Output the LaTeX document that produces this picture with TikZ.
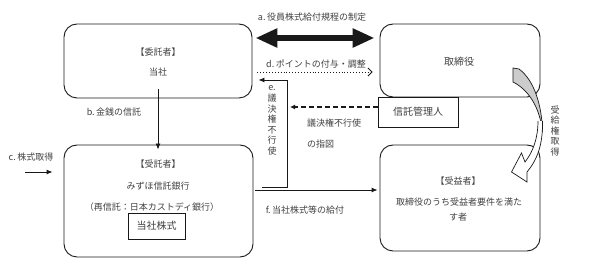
\documentclass[tikz,border=0pt]{standalone}
\usepackage{fontspec}
\setmainfont{Noto Sans CJK JP}
\usetikzlibrary{arrows.meta,calc}
\definecolor{txt}{gray}{0.25}
\definecolor{ln}{gray}{0.1}
\begin{document}
\begin{tikzpicture}[x=1pt,y=-1pt,
  every node/.style={text=txt,font=\fontsize{9}{11}\selectfont,inner sep=0pt},
  rbox/.style={draw=ln,line width=0.9pt,rounded corners=13pt},
  sqbox/.style={draw=ln,line width=0.9pt,fill=white},
  big/.style={font=\fontsize{10}{12}\selectfont},
  arr/.style={draw=ln,line width=0.9pt,-{Latex[length=6pt,width=5pt]}},
  vtext/.style={align=center,font=\fontsize{9}{10.5}\selectfont}]
\useasboundingbox (0,0) rectangle (606,264);

% boxes
\node[rbox,minimum width=188pt,minimum height=74pt] (itaku) at (158,61) {};
\node[rbox,minimum width=160pt,minimum height=73pt] (tori) at (460,60.5) {};
\node[rbox,minimum width=189pt,minimum height=112pt] (jutaku) at (158.5,201) {};
\node[rbox,minimum width=160pt,minimum height=106pt] (jueki) at (460,198) {};
\node[sqbox,big,minimum width=80pt,minimum height=30pt] (kanri) at (418,112) {信託管理人};
\node[sqbox,big,minimum width=57pt,minimum height=26pt] (kabu) at (156.5,226) {当社株式};

% box texts
\node (t1) at (158,52) {【委託者】};
\node (t2) at (158,72) {当社};
\node[big] (t3) at (459,62) {取締役};
\node (t4) at (158,164) {【受託者】};
\node (t5) at (158,186) {みずほ信託銀行};
\node (t6) at (152,207) {（再信託：日本カストディ銀行）};
\node (t7) at (458,181) {【受益者】};
\node (t8) at (459,202) {取締役のうち受益者要件を満た};
\node (t9) at (458,217) {す者};

% labels
\node (la) at (312,17) {a.\,役員株式給付規程の制定};
\node (ld) at (316,64) {d.\,ポイントの付与・調整};
\node (lb) at (114,112) {b.\,金銭の信託};
\node (lc) at (31,157) {c.\,株式取得};
\node (lf) at (305,210) {f.\,当社株式等の給付};
\node (lg) at (334,123) {議決権不行使};
\node[anchor=west] (lh) at (307,144) {の指図};
\node[vtext] (le) at (272,120) {e.\\[1pt]議\\決\\権\\不\\行\\使};
\node[vtext] (lr) at (555,131) {受\\給\\権\\取\\得};

% a: thick double arrow
\coordinate (ya) at (0,38);
\draw[ln,line width=6.5pt,{Triangle[length=22pt,width=18pt]}-{Triangle[length=22pt,width=18pt]},shorten <=3pt,shorten >=5pt]
  (itaku.east |- ya) -- (tori.west |- ya);

% d: dotted arrow
\coordinate (yd) at (0,72);
\draw[ln,dotted,line width=0.9pt,-{Straight Barb[length=4pt,width=8pt]},shorten <=5pt,shorten >=7pt]
  (itaku.east |- yd) -- (tori.west |- yd);

% e: bent arrow
\coordinate (e1) at (262,187);
\coordinate (e2) at (287,80);
\draw[arr,shorten >=6pt] (e1) -| (e2) -- (itaku.east |- e2);

% dashed arrow from kanri
\coordinate (dEnd) at (290,107);
\draw[ln,line width=1.1pt,dash pattern=on 5pt off 3pt,-{Latex[length=5pt,width=5pt]}]
  (kanri.west |- dEnd) -- (dEnd);

% f arrow
\coordinate (yf) at (0,190);
\draw[arr,shorten <=2pt,shorten >=2pt] (jutaku.east |- yf) -- (jueki.west |- yf);

% b arrow
\coordinate (b0) at (158,89);
\draw[arr,shorten >=-5pt] (b0) -- (b0 |- jutaku.north);

% c arrow
\coordinate (c0) at (25,172);
\draw[arr,shorten >=11pt] (c0) -- (jutaku.west |- c0);

% curved ribbon arrow
\draw[ln,line width=0.7pt,fill=gray!40]
  (513,68) -- (519,69) .. controls (534,80) and (542,105) .. (542.5,132)
  .. controls (540,108) and (529,90) .. (513,82) -- cycle;
\draw[ln,line width=0.7pt,fill=white]
  (542.5,121) .. controls (543,145) and (537,160) .. (527,172)
  -- (527,182) -- (511.5,172) -- (521.5,153) -- (525,162)
  .. controls (533,152) and (538,138) .. (538,121);
\end{tikzpicture}
\end{document}
